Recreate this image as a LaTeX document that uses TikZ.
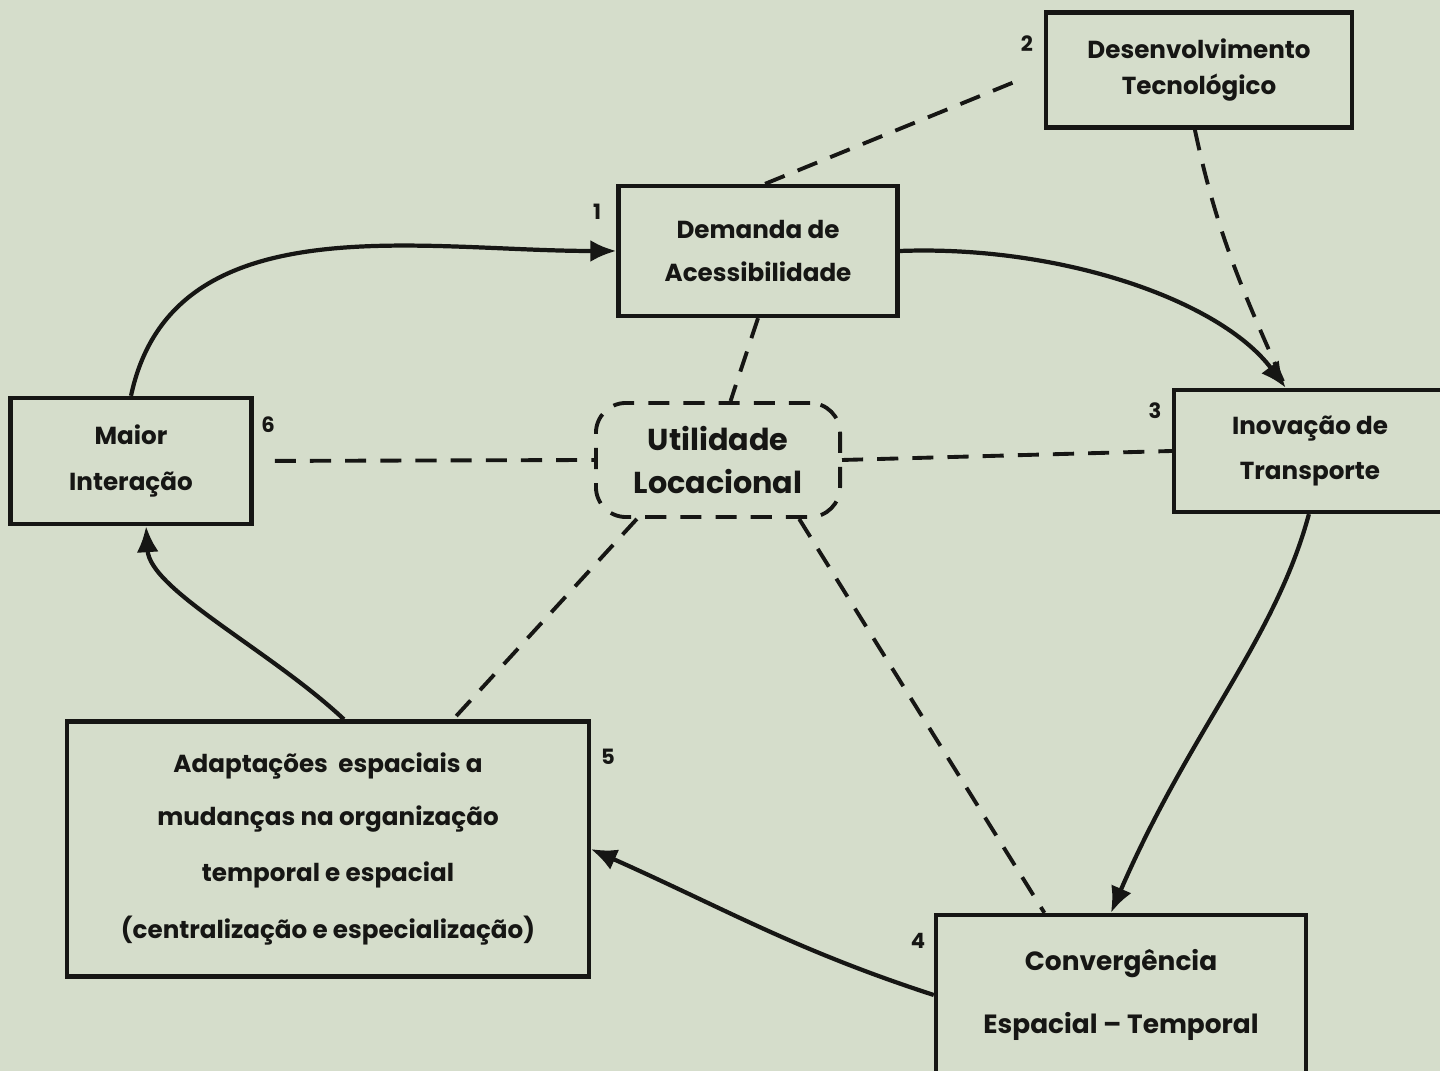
\documentclass[tikz,border=0pt]{standalone}
\usepackage{fontspec}
\setmainfont{Poppins}
\usepackage{tikz}
\usetikzlibrary{arrows.meta}

\definecolor{paper}{RGB}{213,221,203}
\definecolor{ink}{RGB}{22,22,20}

\tikzset{
  block/.style={draw=ink, line width=1.2pt, inner sep=0pt, align=center,
    text=ink, font=\fontsize{7}{9}\selectfont\bfseries},
  util/.style={draw=ink, line width=1.1pt, dash pattern=on 6pt off 4pt,
    rounded corners=3mm, inner sep=0pt, align=center, text=ink,
    font=\fontsize{8.6}{12}\selectfont\bfseries},
  num/.style={text=ink, font=\fontsize{6}{7}\selectfont\bfseries, inner sep=0pt},
  flow/.style={draw=ink, line width=1.2pt, -{Latex[length=2.6mm,width=2.2mm]}},
  link/.style={draw=ink, line width=1.1pt, dash pattern=on 6pt off 4pt}
}

\begin{document}
\begin{tikzpicture}[x=0.01cm,y=-0.01cm]
\useasboundingbox[fill=paper] (0,0) rectangle (1440,1071);

% boxes
\node[block, minimum width=3.06cm, minimum height=1.15cm] (dev) at (1199,70)
  {Desenvolvimento\\[1pt] Tecnológico};
\node[block, minimum width=2.79cm, minimum height=1.30cm] (dem) at (758,251)
  {Demanda de\\[3pt] Acessibilidade};
\node[block, minimum width=2.41cm, minimum height=1.26cm] (mai) at (131,461)
  {Maior\\[4pt] Interação};
\node[block, minimum width=2.72cm, minimum height=1.22cm] (ino) at (1310,451)
  {Inovação de\\[4pt] Transporte};
\node[block, minimum width=5.21cm, minimum height=2.55cm] (ada) at (328,849)
  {Adaptações \ espaciais a\\[6pt] mudanças na organização\\[7pt]
   temporal e espacial\\[7pt] (centralização e especialização)};
\node[block, minimum width=3.70cm, minimum height=1.60cm,
  font=\fontsize{7.5}{9}\selectfont\bfseries] (con) at (1121,995)
  {Convergência\\[9pt] Espacial -- Temporal};
\node[util, minimum width=2.44cm, minimum height=1.14cm] (utl) at (718,460)
  {Utilidade\\ Locacional};

% numbers
\node[num] (n1) at (597,212) {1};
\node[num] (n2) at (1027,44) {2};
\node[num] (n3) at (1155,411) {3};
\node[num] (n4) at (918,941) {4};
\node[num] (n5) at (608,757) {5};
\node[num] (n6) at (268,425) {6};

% cycle
\draw[flow] (mai.north) to[out=78, in=180] (dem.west);
\draw[flow] (dem.east) .. controls (1060,245) and (1220,300) .. (ino.111);
\draw[flow] (ino.-91) .. controls (1275,640) and (1190,730) .. (con.97);
\draw[flow] (con.west) to[out=162, in=-24] (ada.east);
\draw[flow] (ada.83) .. controls (270,650) and (150,590) .. (mai.-77);

% dashed links
\draw[link] (dev.266) to[out=-78, in=114] (ino.111);
\draw[link, shorten >=8pt] (dem.84) -- (dev.west);
\draw[link] (dem.south) -- (utl.78);
\draw[link, shorten <=6pt] (mai.east) -- (utl.west);
\draw[link] (utl.east) -- (ino.west);
\draw[link] (utl.216) -- (ada.46);
\draw[link] (utl.-36) -- (con.133);
\end{tikzpicture}
\end{document}
